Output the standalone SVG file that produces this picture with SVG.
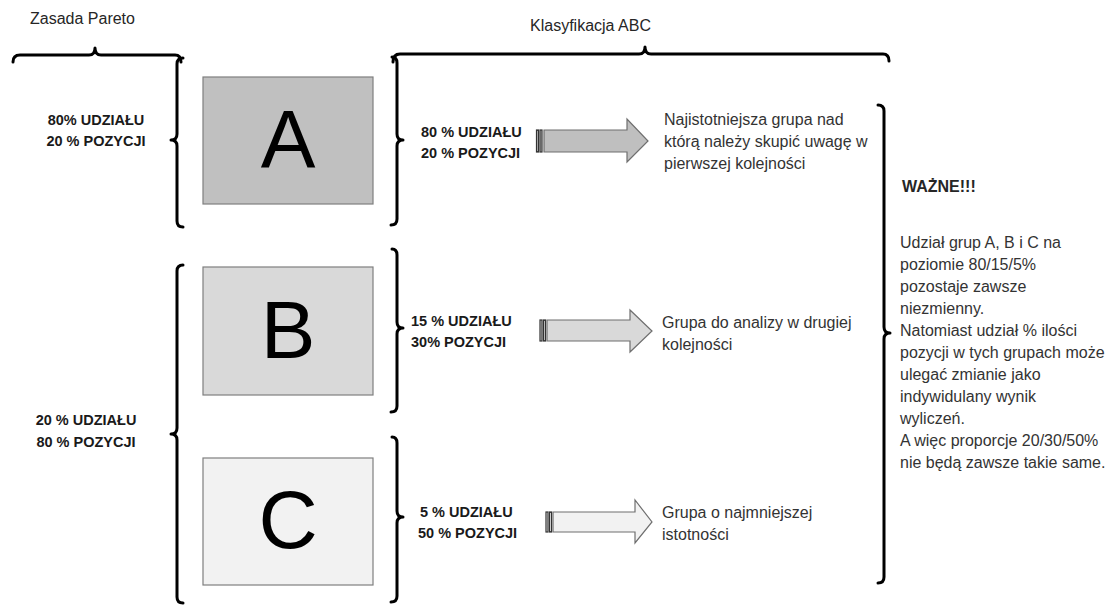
<svg xmlns="http://www.w3.org/2000/svg" width="1111" height="606" viewBox="0 0 1111 606">
<style>
.br{fill:none;stroke:#000;stroke-width:3;stroke-linecap:round;stroke-linejoin:round}
.t{font-family:"Liberation Sans",Arial,sans-serif;fill:#262626}
.h{font-size:16px}
.lb{font-size:14.5px;font-weight:bold;fill:#1a1a1a}
.body{font-size:16px;fill:#333}
.big{font-size:82px;fill:#000;text-anchor:middle}
.box{stroke:#7f7f7f;stroke-width:1.2}
.arr{stroke:#6f6f6f;stroke-width:1.2}
.st{stroke:#333;stroke-width:1.2}
</style>
<rect width="1111" height="606" fill="#fff"/>
<text class="t h" x="30" y="24">Zasada Pareto</text>
<text class="t h" x="530" y="31">Klasyfikacja ABC</text>
<g id="braces">
<path class="br" d="M13,62 Q13,55 20,55 L89,55 Q95,55 95,48 Q95,55 101,55 L175,55 Q181,55 181,62"/>
<path class="br" d="M393,62 Q393,54 400,54 L639,54 Q645,54 645,47 Q645,54 651,54 L883,54 Q889,54 889,61"/>
<path class="br" d="M183,58 Q177,58 177,64 L177,134 Q177,140 171,140 Q177,140 177,146 L177,221 Q177,227 183,227"/>
<path class="br" d="M183,265 Q177,265 177,271 L177,428 Q177,434 171,434 Q177,434 177,440 L177,597 Q177,603 183,603"/>
<path class="br" d="M392,57 Q397,57 397,63 L397,134 Q397,140 403,140 Q397,140 397,146 L397,219 Q397,225 391,225"/>
<path class="br" d="M392,249 Q397,249 397,255 L397,322 Q397,328 403,328 Q397,328 397,334 L397,406 Q397,412 391,412"/>
<path class="br" d="M392,437 Q397,437 397,443 L397,511 Q397,517 403,517 Q397,517 397,523 L397,596 Q397,602 391,602"/>
<path class="br" d="M878,105 Q884,105 884,111 L884,327 Q884,333 890,333 Q884,333 884,339 L884,577 Q884,583 878,583"/>
</g>
<g id="nodeA">
<rect class="box" x="203" y="77" width="170" height="127" fill="#c0c0c0"/>
<text class="t big" x="288" y="167">A</text>
</g>
<g id="nodeB">
<rect class="box" x="203" y="267" width="170" height="128" fill="#d9d9d9"/>
<text class="t big" x="288" y="358">B</text>
</g>
<g id="nodeC">
<rect class="box" x="203" y="458" width="170" height="127" fill="#f2f2f2"/>
<text class="t big" x="288" y="548">C</text>
</g>
<g id="labels-left">
<text class="t lb" x="96" y="125" text-anchor="middle">80% UDZIAŁU</text>
<text class="t lb" x="96" y="146" text-anchor="middle">20 % POZYCJI</text>
<text class="t lb" x="86" y="425" text-anchor="middle">20 % UDZIAŁU</text>
<text class="t lb" x="86" y="447" text-anchor="middle">80 % POZYCJI</text>
</g>
<g id="labels-mid">
<text class="t lb" x="421" y="137">80 % UDZIAŁU</text>
<text class="t lb" x="421" y="158">20 % POZYCJI</text>
<text class="t lb" x="411" y="326">15 % UDZIAŁU</text>
<text class="t lb" x="411" y="347">30% POZYCJI</text>
<text class="t lb" x="420" y="517">5 % UDZIAŁU</text>
<text class="t lb" x="418" y="538">50 % POZYCJI</text>
</g>
<g id="connectors">
<g fill="#bfbfbf" class="arr">
<rect class="st" x="536.5" y="130" width="2" height="22"/>
<rect class="st" x="540" y="130" width="2" height="22"/>
<polygon points="544,130 627,130 627,119 648,141 627,162 627,152 544,152"/>
</g>
<g fill="#d9d9d9" class="arr">
<rect class="st" x="540" y="320" width="2" height="21"/>
<rect class="st" x="543.5" y="320" width="2" height="21"/>
<polygon points="547,320 630,320 630,310 652,331 630,352 630,341 547,341"/>
</g>
<g fill="#f2f2f2" class="arr">
<rect class="st" x="546" y="512" width="2" height="20"/>
<rect class="st" x="549.5" y="512" width="2" height="20"/>
<polygon points="553,512 635,512 635,500 652,522 635,543 635,532 553,532"/>
</g>
</g>
<g id="desc">
<text class="t body" x="664" y="125">Najistotniejsza grupa nad</text>
<text class="t body" x="664" y="147">którą należy skupić uwagę w</text>
<text class="t body" x="664" y="169">pierwszej kolejności</text>
<text class="t body" x="662" y="328">Grupa do analizy w drugiej</text>
<text class="t body" x="662" y="350">kolejności</text>
<text class="t body" x="662" y="518">Grupa o najmniejszej</text>
<text class="t body" x="662" y="540">istotności</text>
</g>
<g id="note">
<text class="t" x="902" y="192" font-size="16" font-weight="bold" fill="#111">WAŻNE!!!</text>
<text class="t body" x="900" y="248">Udział grup A, B i C na</text>
<text class="t body" x="900" y="270">poziomie 80/15/5%</text>
<text class="t body" x="900" y="292">pozostaje zawsze</text>
<text class="t body" x="900" y="314">niezmienny.</text>
<text class="t body" x="900" y="336">Natomiast udział % ilości</text>
<text class="t body" x="900" y="358">pozycji w tych grupach może</text>
<text class="t body" x="900" y="380">ulegać zmianie jako</text>
<text class="t body" x="900" y="402">indywidulany wynik</text>
<text class="t body" x="900" y="424">wyliczeń.</text>
<text class="t body" x="900" y="446">A więc proporcje 20/30/50%</text>
<text class="t body" x="900" y="468">nie będą zawsze takie same.</text>
</g>
</svg>
